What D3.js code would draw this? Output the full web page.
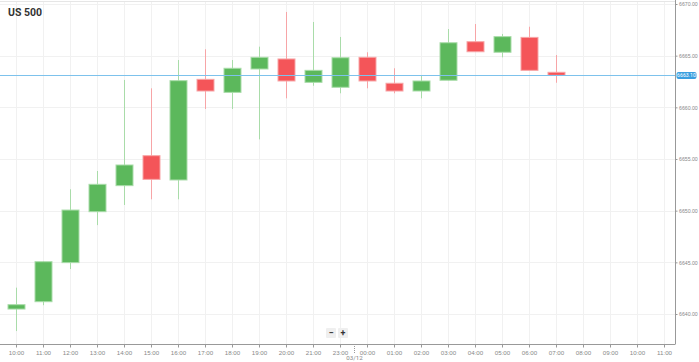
<!DOCTYPE html>
<html>
<head>
<meta charset="utf-8">
<script src="https://cdn.jsdelivr.net/npm/d3@7"></script>
<style>
  body { margin: 0; background: #fff; }
  svg { display: block; font-family: Roboto, "Open Sans", sans-serif; }
</style>
</head>
<body>
<div id="chart"></div>
<script>
// axis slots (22:00 is a market break, so it is skipped)
var slots = ["10:00","11:00","12:00","13:00","14:00","15:00","16:00","17:00","18:00","19:00","20:00","21:00","23:00",
             "00:00","01:00","02:00","03:00","04:00","05:00","06:00","07:00","08:00","09:00","10:00b","11:00b"];

// candles
var hours = ["10:00","11:00","12:00","13:00","14:00","15:00","16:00","17:00","18:00","19:00","20:00","21:00","23:00",
             "00:00","01:00","02:00","03:00","04:00","05:00","06:00","07:00"];
var open  = [6640.48, 6641.19, 6644.97, 6649.90, 6652.42, 6655.32, 6652.97, 6662.71, 6661.45, 6663.71, 6664.68, 6662.42, 6661.94,
             6664.84, 6662.33, 6661.58, 6662.62, 6666.35, 6665.33, 6666.77, 6663.39];
var high  = [6642.55, 6645.10, 6652.07, 6653.84, 6662.65, 6661.84, 6664.58, 6665.62, 6664.58, 6665.87, 6669.23, 6668.26, 6666.81,
             6665.33, 6663.78, 6663.03, 6667.58, 6668.06, 6667.10, 6667.80, 6665.06];
var low   = [6638.35, 6640.85, 6644.35, 6648.60, 6650.55, 6651.10, 6651.10, 6659.84, 6659.84, 6656.90, 6660.87, 6662.09, 6661.36,
             6661.84, 6661.36, 6660.87, 6662.60, 6665.38, 6664.84, 6663.58, 6662.38];
var close = [6640.90, 6645.06, 6650.06, 6652.55, 6654.42, 6653.03, 6662.58, 6661.58, 6663.78, 6664.84, 6662.55, 6663.58, 6664.80,
             6662.55, 6661.58, 6662.55, 6666.25, 6665.38, 6666.84, 6663.58, 6663.10];

var yTicks = [6640, 6645, 6650, 6655, 6660, 6665, 6670];
var lastPrice = 6663.10;
var title = "US 500";
var dayLabel = "03/12";

var W = 699, H = 362;
var axisX = 675, axisY = 344;

var svg = d3.select("#chart").append("svg")
    .attr("width", W)
    .attr("height", H);

var x = d3.scalePoint().domain(slots).range([16, 664]);
var y = d3.scaleLinear().domain([6640, 6670]).range([314, 4]);

// top border
svg.append("line")
    .attr("x1", 0).attr("x2", axisX).attr("y1", 1.5).attr("y2", 1.5)
    .attr("stroke", "#e6e6e6");

// vertical grid
svg.append("g").selectAll("line")
    .data(slots)
    .enter().append("line")
        .attr("x1", function (d) { return Math.round(x(d)) + 0.5; })
        .attr("x2", function (d) { return Math.round(x(d)) + 0.5; })
        .attr("y1", 2).attr("y2", axisY)
        .attr("stroke", "#f1f1f1");

// horizontal grid
svg.append("g").selectAll("line")
    .data(yTicks)
    .enter().append("line")
        .attr("x1", 0).attr("x2", axisX)
        .attr("y1", function (d) { return Math.round(y(d)) + 0.5; })
        .attr("y2", function (d) { return Math.round(y(d)) + 0.5; })
        .attr("stroke", "#f1f1f1");

// right axis
var yAxis = d3.axisRight(y).tickValues(yTicks).tickSize(2).tickPadding(1.5)
    .tickFormat(function (d) { return d3.format(".2f")(d); });
var gy = svg.append("g")
    .attr("transform", "translate(" + (axisX + 0.5) + ",0)")
    .call(yAxis);
gy.select(".domain").attr("d", "M0,0V" + axisY).attr("stroke", "#999");
gy.selectAll(".tick line").attr("stroke", "#999");
gy.selectAll(".tick text").attr("fill", "#888").attr("font-size", "5.2px");

// bottom axis
var xAxis = d3.axisBottom(x).tickSize(3).tickPadding(3)
    .tickFormat(function (d) { return d.replace("b", ""); });
var gx = svg.append("g")
    .attr("transform", "translate(0," + (axisY + 0.5) + ")")
    .call(xAxis);
gx.select(".domain").attr("d", "M0,0H" + (axisX + 0.5)).attr("stroke", "#999");
gx.selectAll(".tick line").attr("stroke", "#999");
gx.selectAll(".tick text").attr("fill", "#888").attr("font-size", "6.2px");

// day separator
var sepX = Math.round((x("23:00") + x("00:00")) / 2) + 0.5;
svg.append("line")
    .attr("x1", sepX).attr("x2", sepX).attr("y1", axisY).attr("y2", axisY + 10)
    .attr("stroke", "#999").attr("stroke-dasharray", "1,1");
svg.append("text")
    .attr("x", sepX).attr("y", 360)
    .attr("text-anchor", "middle")
    .attr("fill", "#888").attr("font-size", "6.2px")
    .text(dayLabel);

// candles
var candles = hours.map(function (h, i) {
    return { h: h, o: open[i], hi: high[i], lo: low[i], c: close[i] };
});
var bw = 17;
var g = svg.append("g").selectAll("g")
    .data(candles)
    .enter().append("g");

g.append("line")
    .attr("x1", function (d) { return Math.round(x(d.h)) + 0.5; })
    .attr("x2", function (d) { return Math.round(x(d.h)) + 0.5; })
    .attr("y1", function (d) { return y(d.hi); })
    .attr("y2", function (d) { return y(d.lo); })
    .attr("stroke", function (d) { return d.c >= d.o ? "#a9dca9" : "#f7a5a7"; })
    .attr("stroke-width", 1);

g.append("rect")
    .attr("x", function (d) { return Math.round(x(d.h)) - bw / 2 + 0.5; })
    .attr("y", function (d) { return y(Math.max(d.o, d.c)); })
    .attr("width", bw)
    .attr("height", function (d) { return Math.max(1, Math.abs(y(d.o) - y(d.c))); })
    .attr("fill", function (d) { return d.c >= d.o ? "#5cb85c" : "#f45559"; })
    .attr("stroke", function (d) { return d.c >= d.o ? "#a9dca9" : "#f7a5a7"; })
    .attr("stroke-width", 1);

// current price line + label
var py = Math.round(y(lastPrice)) + 0.5;
svg.append("line")
    .attr("x1", 0).attr("x2", axisX).attr("y1", py).attr("y2", py)
    .attr("stroke", "#7dc2ec").attr("stroke-width", 1);
svg.append("rect")
    .attr("x", axisX + 1.5).attr("y", py - 3.5)
    .attr("width", 20).attr("height", 7).attr("rx", 2)
    .attr("fill", "#3a9fe0");
svg.append("text")
    .attr("x", axisX + 11.5).attr("y", py + 1.9)
    .attr("text-anchor", "middle")
    .attr("fill", "#fff").attr("font-size", "5.2px")
    .text(d3.format(".2f")(lastPrice));

// title
svg.append("text")
    .attr("x", 8).attr("y", 16)
    .attr("fill", "#333").attr("font-size", "10.5px").attr("font-weight", "bold")
    .text(title);

// zoom buttons
var btn = svg.append("g");
[["\u2212", 331], ["+", 343]].forEach(function (b) {
    btn.append("rect")
        .attr("x", b[1] - 5).attr("y", 328)
        .attr("width", 10).attr("height", 10).attr("rx", 1)
        .attr("fill", "#efefef");
    btn.append("text")
        .attr("x", b[1]).attr("y", 336)
        .attr("text-anchor", "middle")
        .attr("fill", "#333").attr("font-size", "9px").attr("font-weight", "bold")
        .text(b[0]);
});
</script>
</body>
</html>
